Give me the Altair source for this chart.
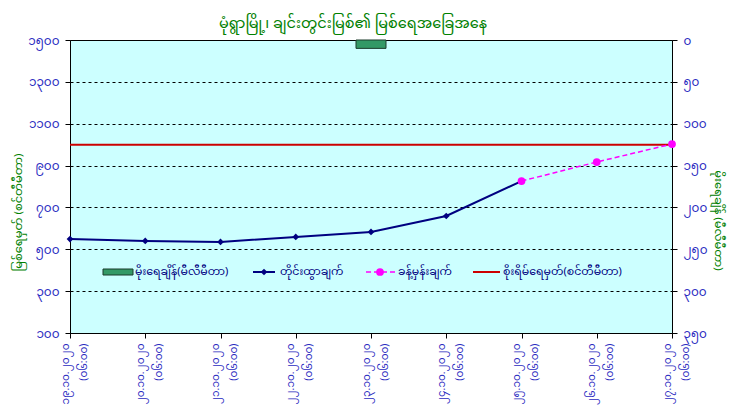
import altair as alt
import pandas as pd

FONT = "Noto Sans Myanmar, Padauk, Myanmar Text, Pyidaungsu, Noto Sans, sans-serif"
GREEN = "#008000"
BLUE = "#2b2bbf"
NAVY = "#000080"
RED = "#cc0000"
MAGENTA = "#ff00ff"

# ---- data -------------------------------------------------------------
days = ["၁၉", "၂၀", "၂၁", "၂၂", "၂၃", "၂၄", "၂၅", "၂၆", "၂၇"]
month_year = "၁၀.၂၀၂၀"
obs_time = "(၀၆:၀၀)"
dates = [f"{d}.{month_year}|{obs_time}" for d in days]

measured = [549, 540, 535, 559, 583, 659, 826, None, None]
forecast = [None, None, None, None, None, None, 826, 917, 1003]
rain = [0, 0, 0, 0, 10, 0, 0, 0, 0]
danger = 1000

left_ticks = [100, 300, 500, 700, 900, 1100, 1300, 1500]
left_labels = ["၁၀၀", "၃၀၀", "၅၀၀", "၇၀၀", "၉၀၀", "၁၁၀၀", "၁၃၀၀", "၁၅၀၀"]
right_ticks = [0, 50, 100, 150, 200, 250, 300, 350]
right_labels = ["၀", "၅၀", "၁၀၀", "၁၅၀", "၂၀၀", "၂၅၀", "၃၀၀", "၃၅၀"]

title_text = "မုံရွာမြို့၊ ချင်းတွင်းမြစ်၏ မြစ်ရေအခြေအနေ"
left_title = "မြစ်ရေမှတ် (စင်တီမီတာ)"
right_title = "မိုးရေချိန် (မီလီမီတာ)"
legend_names = ["မိုးရေချိန်(မီလီမီတာ)", "တိုင်းထွာချက်", "ခန့်မှန်းချက်", "စိုးရိမ်ရေမှတ်(စင်တီမီတာ)"]


def label_expr(values, labels):
    e = "''"
    for v, l in reversed(list(zip(values, labels))):
        e = f"datum.value == {v} ? '{l}' : ({e})"
    return e


df = pd.DataFrame({"date": dates, "measured": measured, "forecast": forecast, "rain": rain})

x_enc = alt.X(
    "date:N", sort=dates,
    scale=alt.Scale(type="point", padding=0),
    axis=alt.Axis(title=None, labelAngle=270, labelAlign="right", labelBaseline="middle",
                  labelExpr="split(datum.label, '|')", labelColor=BLUE, labelFont=FONT,
                  labelFontSize=10.5, labelLineHeight=18, labelPadding=5, labelOffset=-5,
                  tickSize=5, tickColor="black", domainColor="black", grid=False),
)

left_axis = alt.Axis(values=left_ticks, labelExpr=label_expr(left_ticks, left_labels),
                     title=left_title, titleColor=GREEN, titleFont=FONT, titleFontSize=11.5,
                     titleFontWeight="normal", titlePadding=4, titleY=172,
                     labelColor=BLUE, labelFont=FONT, labelFontSize=12, labelPadding=6,
                     tickSize=5, tickColor="black", domainColor="black",
                     grid=True, gridColor="black", gridDash=[3, 3], gridWidth=1,
                     gridOpacity={"condition": {"test": "datum.value == 100 || datum.value == 1500",
                                                "value": 0}, "value": 1})
left_scale = alt.Scale(domain=[100, 1500], nice=False, zero=False)


def yl(field):
    return alt.Y(f"{field}:Q", scale=left_scale, axis=left_axis)


base = alt.Chart(df)

meas_line = base.mark_line(color=NAVY, strokeWidth=2).encode(
    x=x_enc, y=yl("measured")).transform_filter("isValid(datum.measured)")
meas_pts = base.mark_point(shape="diamond", filled=True, color=NAVY, size=45, opacity=1).encode(
    x=x_enc, y=yl("measured")).transform_filter("isValid(datum.measured)")
fc_line = base.mark_line(color=MAGENTA, strokeWidth=1.5, strokeDash=[5, 3]).encode(
    x=x_enc, y=yl("forecast")).transform_filter("isValid(datum.forecast)")
fc_pts = base.mark_point(shape="circle", filled=True, color=MAGENTA, size=60, opacity=1).encode(
    x=x_enc, y=yl("forecast")).transform_filter("isValid(datum.forecast)")
danger_rule = alt.Chart(pd.DataFrame({"danger": [danger]})).mark_rule(color=RED, strokeWidth=2).encode(
    y=alt.Y("danger:Q", scale=left_scale, axis=left_axis))

left_layer = alt.layer(danger_rule, meas_line, meas_pts, fc_line, fc_pts)

rain_bar = base.mark_bar(size=30, color="#339966", stroke="#1a3a2a", strokeWidth=1).encode(
    x=x_enc,
    y=alt.Y("rain:Q", scale=alt.Scale(domain=[0, 350], reverse=True, nice=False, zero=True),
            axis=alt.Axis(orient="right", values=right_ticks,
                          labelExpr=label_expr(right_ticks, right_labels),
                          title=right_title, titleColor=GREEN, titleFont=FONT, titleFontSize=11.5,
                          titleFontWeight="normal", titlePadding=5, titleY=180,
                          labelColor=BLUE, labelFont=FONT, labelFontSize=12, labelPadding=6,
                          tickSize=5, tickColor="black", domainColor="black", grid=False)),
).transform_filter("datum.rain > 0")

# ---- legend (drawn inside the plot, pixel positions) -----------------
LY = 232


def px(field):
    return alt.X(f"{field}:Q", scale=None, axis=None)


def py(field):
    return alt.Y(f"{field}:Q", scale=None, axis=None)


leg_rect = alt.Chart(pd.DataFrame({"x": [33], "x2": [63], "y": [LY - 3], "y2": [LY + 3]})).mark_rect(
    color="#339966", stroke="#1a3a2a", strokeWidth=1).encode(x=px("x"), x2="x2:Q", y=py("y"), y2="y2:Q")
leg_navy = alt.Chart(pd.DataFrame({"k": [1]})).mark_rule(color=NAVY, strokeWidth=2).encode(
    x=alt.value(183), x2=alt.value(205), y=alt.value(LY))
leg_red = alt.Chart(pd.DataFrame({"k": [0]})).mark_rule(color=RED, strokeWidth=2).encode(
    x=alt.value(403), x2=alt.value(430), y=alt.value(LY))
leg_dash = alt.Chart(pd.DataFrame({"k": [2]})).mark_rule(
    color=MAGENTA, strokeWidth=1.5, strokeDash=[5, 3]).encode(
    x=alt.value(296), x2=alt.value(326), y=alt.value(LY))
leg_dia = alt.Chart(pd.DataFrame({"x": [194], "y": [LY]})).mark_point(
    shape="diamond", filled=True, color=NAVY, size=45, opacity=1).encode(x=px("x"), y=py("y"))
leg_circ = alt.Chart(pd.DataFrame({"x": [310], "y": [LY]})).mark_point(
    shape="circle", filled=True, color=MAGENTA, size=60, opacity=1).encode(x=px("x"), y=py("y"))
leg_text = alt.Chart(pd.DataFrame({"x": [65, 210, 328, 433], "y": [LY] * 4, "t": legend_names})).mark_text(
    align="left", baseline="middle", font=FONT, fontSize=11, color=NAVY).encode(
    x=px("x"), y=py("y"), text="t:N")

legend_layer = alt.layer(leg_rect, leg_navy, leg_dash, leg_dia, leg_circ, leg_text, leg_red)

chart = alt.layer(rain_bar, left_layer, legend_layer).resolve_scale(y="independent").properties(
    width=602, height=293,
    autosize=alt.AutoSizeParams(type="none"),
    padding={"left": 62, "top": 32, "right": 60, "bottom": 77},
    title=alt.TitleParams(title_text, font=FONT, fontSize=14.5, fontWeight="normal", color=GREEN,
                          anchor="middle", offset=3, dx=-18),
).configure(
    background="white",
    view=alt.ViewConfig(fill="#ccffff", stroke="black", strokeWidth=1),
)

chart.save("out.html", embed_options={"renderer": "svg", "actions": False})
